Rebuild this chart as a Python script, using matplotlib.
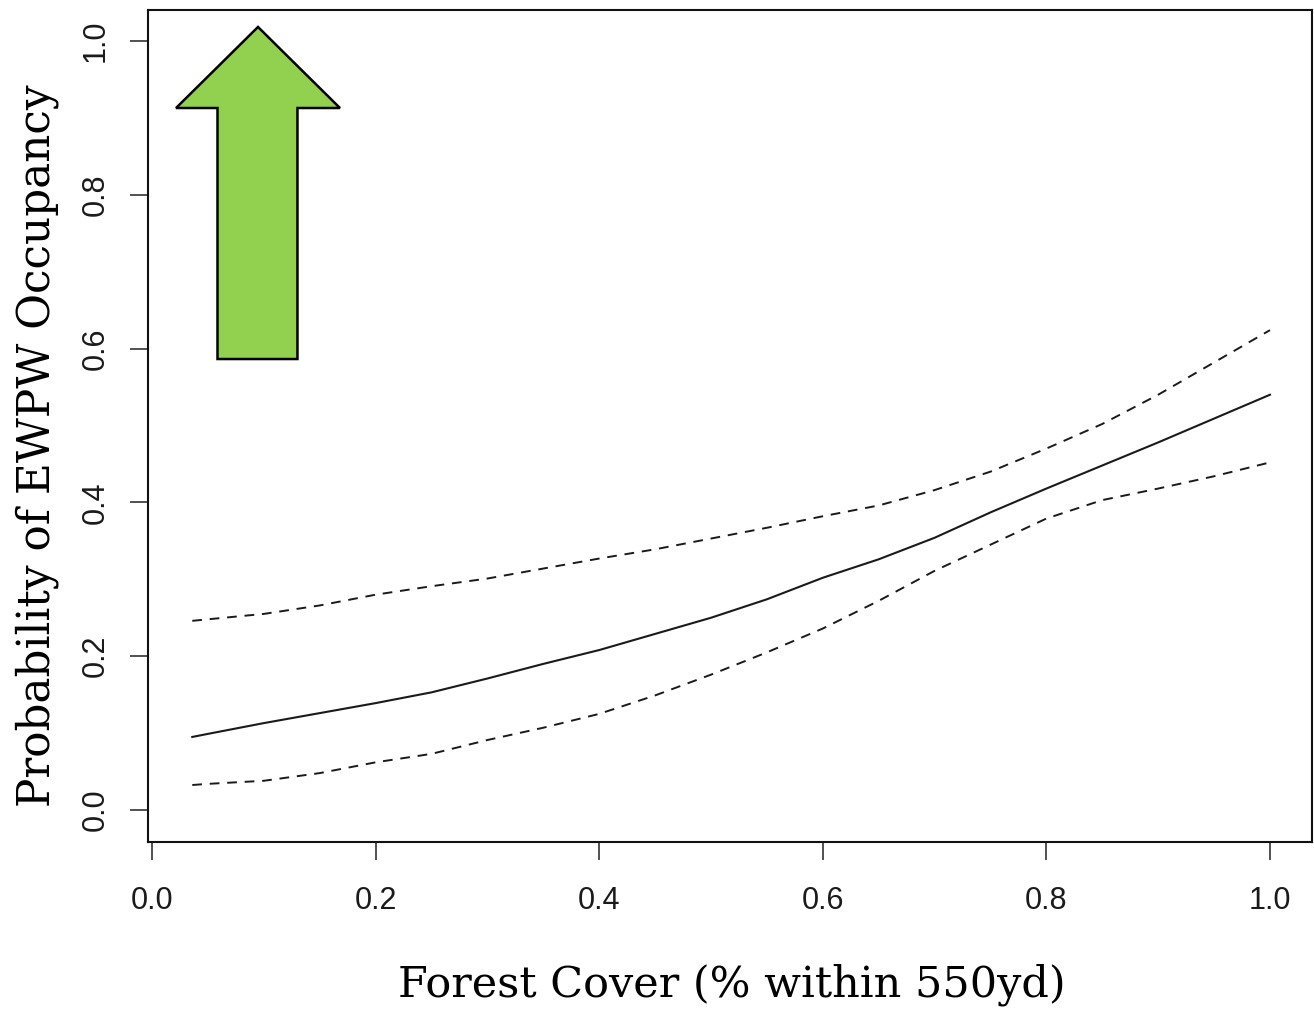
import matplotlib.pyplot as plt
from matplotlib.patches import Polygon

# Forest cover values (proportion within 550yd)
forest = [0.036, 0.05, 0.10, 0.15, 0.20, 0.25, 0.30, 0.35, 0.40, 0.45, 0.50,
          0.55, 0.60, 0.65, 0.70, 0.75, 0.80, 0.85, 0.90, 0.95, 1.00]

# Predicted occupancy and confidence limits
occ_mean = [0.095, 0.099, 0.113, 0.126, 0.139, 0.153, 0.171, 0.190, 0.208, 0.229, 0.250,
            0.274, 0.302, 0.326, 0.354, 0.387, 0.418, 0.448, 0.478, 0.509, 0.540]
occ_upper = [0.246, 0.248, 0.255, 0.266, 0.280, 0.291, 0.301, 0.314, 0.327, 0.339, 0.353,
             0.367, 0.382, 0.396, 0.416, 0.440, 0.470, 0.502, 0.540, 0.582, 0.624]
occ_lower = [0.0325, 0.034, 0.038, 0.048, 0.062, 0.073, 0.091, 0.107, 0.125, 0.149, 0.176,
             0.205, 0.236, 0.272, 0.311, 0.345, 0.379, 0.403, 0.418, 0.434, 0.452]

ticks = [0.0, 0.2, 0.4, 0.6, 0.8, 1.0]
tick_labels = ["0.0", "0.2", "0.4", "0.6", "0.8", "1.0"]

fig = plt.figure(figsize=(13.14, 10.09), dpi=100)
ax = fig.add_axes([148/1314, 1 - 842/1009, 1164/1314, 832/1009])

ax.plot(forest, occ_mean, color="#1a1a1a", lw=1.5)
ax.plot(forest, occ_upper, color="#1a1a1a", lw=1.4, dashes=(5, 4))
ax.plot(forest, occ_lower, color="#1a1a1a", lw=1.4, dashes=(5, 4))

ax.set_xlim(-0.0036, 1.0376)
ax.set_ylim(-0.0416, 1.0403)

ax.set_xticks(ticks)
ax.set_xticklabels(tick_labels)
ax.set_yticks(ticks)
ax.set_yticklabels(tick_labels)

for side in ax.spines.values():
    side.set_linewidth(1.5)
    side.set_color("#111111")

ax.tick_params(direction="out", length=13, width=1.1, color="#222222",
               labelsize=22, labelcolor="#1a1a1a", labelfontfamily="Liberation Sans")
ax.tick_params(axis="x", pad=19)
ax.tick_params(axis="y", pad=14)
plt.setp(ax.get_yticklabels(), rotation=90, va="center", ha="right")

# green arrow (axes fraction)
arrow = [(0.0945, 0.9796), (0.1649, 0.8822), (0.1284, 0.8822), (0.1284, 0.5805),
         (0.0597, 0.5805), (0.0597, 0.8822), (0.0241, 0.8822)]
ax.add_patch(Polygon(arrow, closed=True, transform=ax.transAxes,
                     facecolor="#92D050", edgecolor="black", lw=1.8, zorder=3))

fig.text(732/1314, 1 - 997/1009, "Forest Cover (% within 550yd)",
         family="DejaVu Serif", fontsize=31, ha="center", va="baseline")
fig.text(37/1314, 1 - 446/1009, "Probability of EWPW Occupancy",
         family="DejaVu Serif", fontsize=31.5, rotation=90, ha="center", va="center")

fig.savefig("out.png", dpi=100)
